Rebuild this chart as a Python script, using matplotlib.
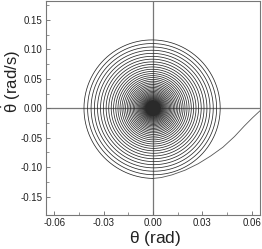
import numpy as np
import matplotlib
matplotlib.use("Agg")
import matplotlib.pyplot as plt

plt.rcParams['font.family'] = ['Liberation Sans', 'DejaVu Sans']
plt.rcParams['mathtext.fontset'] = 'custom'
plt.rcParams['mathtext.rm'] = 'Liberation Sans'
plt.rcParams['mathtext.it'] = 'Liberation Sans'

# ---- data ----
# release segment (theta [rad], theta_dot [rad/s])
release_theta = [0.0655, 0.0605, 0.0555, 0.0495, 0.0425, 0.0350, 0.0275, 0.0195, 0.0115, 0.0050, 0.0]
release_omega = [-0.003, -0.016, -0.030, -0.048, -0.066, -0.081, -0.094, -0.105, -0.113, -0.1175, -0.119]
# free oscillation afterwards (estimated from ring sizes / spacing)
omega_n = 2.8            # rad/s, ratio of velocity to angle amplitude
viscous_loss = 0.048     # relative amplitude loss per turn
friction_step = 0.00025  # constant amplitude loss per turn (rad)

x_ticks = [-0.06, -0.03, 0.00, 0.03, 0.06]
y_ticks = [-0.15, -0.10, -0.05, 0.00, 0.05, 0.10, 0.15]

# ---- free oscillation from end of release segment ----
sigma = viscous_loss * omega_n / (2 * np.pi)
mu = friction_step * omega_n**2 / 4
dt = 0.001
th, w = release_theta[-1], release_omega[-1]
ths, ws = [th], [w]
for _ in range(300000):
    acc = -omega_n**2 * th - 2 * sigma * w - mu * np.sign(w)
    w_new = w + acc * dt
    if w != 0 and np.sign(w_new) != np.sign(w) and abs(omega_n**2 * th) < mu:
        break
    w = w_new
    th = th + w * dt
    ths.append(th)
    ws.append(w)
theta = np.array(ths)
thetad = np.array(ws)

fig = plt.figure(figsize=(2.62, 2.49), dpi=100)
ax = fig.add_axes([46/262, 1 - 215/249, 214/262, 214/249 - 0.002])

ax.axhline(0, color='#777777', lw=0.9, zorder=1)
ax.axvline(0, color='#777777', lw=0.9, zorder=1)
ax.plot(release_theta, release_omega, color='#555555', lw=0.6, zorder=2)
ax.plot(theta, thetad, color='#2a2a2a', lw=0.55, zorder=2)

ax.set_xlim(-0.065, 0.065)
ax.set_ylim(-0.181, 0.181)
ax.set_xticks(x_ticks)
ax.set_xticklabels([f"{v:.2f}" for v in x_ticks])
ax.set_yticks(y_ticks)
ax.set_yticklabels([f"{v:.2f}" for v in y_ticks])
ax.set_xticks([-0.045, -0.015, 0.015, 0.045], minor=True)
ax.set_yticks([-0.125, -0.075, -0.025, 0.025, 0.075, 0.125, 0.175], minor=True)
ax.tick_params(which='major', direction='in', length=3, width=0.6, color='#666666',
               labelsize=7, pad=2.5, labelcolor='#222222')
ax.tick_params(which='minor', direction='in', length=2, width=0.5, color='#666666')
for s in ax.spines.values():
    s.set_color('#777777')
    s.set_linewidth(0.8)

fig.text(155/262, 1 - 238/249, r'$\theta$ (rad)', ha='center', va='center', fontsize=12.5, color='#222222')
fig.text(12/262, 1 - 82/249, r'$\dot{\theta}$ (rad/s)', ha='center', va='center', rotation=90,
         fontsize=12, color='#222222')

fig.savefig('out.png', dpi=100)
